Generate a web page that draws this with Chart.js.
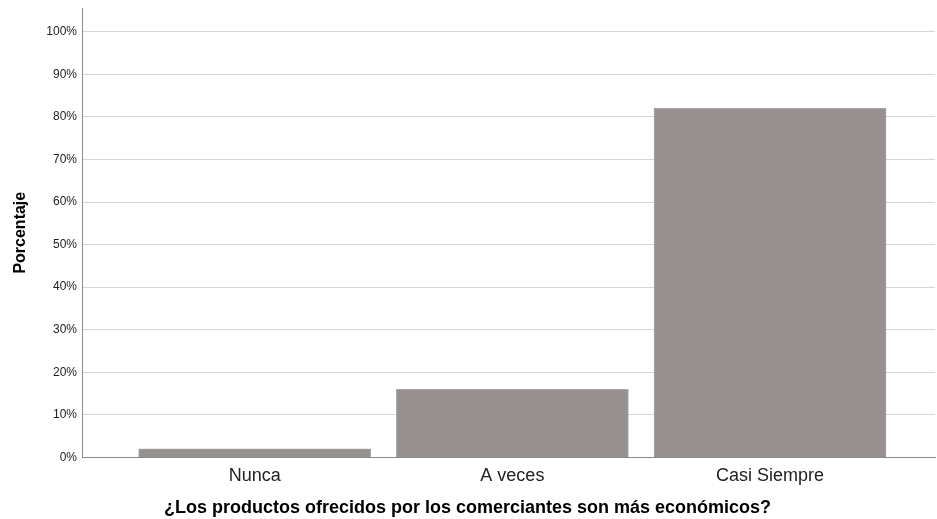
<!DOCTYPE html>
<html>
<head>
<meta charset="utf-8">
<script src="https://cdn.jsdelivr.net/npm/chart.js@4/dist/chart.umd.min.js"></script>
<style>
  html, body { margin: 0; padding: 0; background: #fff; }
  #wrap { width: 937px; height: 519px; }
</style>
</head>
<body>
<div id="wrap"><canvas id="zoneChart"></canvas></div>
<script>
const categories = ['Nunca', 'A veces', 'Casi Siempre']
const porcentajes = [2, 16, 82]
const yTicks = [0, 10, 20, 30, 40, 50, 60, 70, 80, 90, 100]

const ctx = document.querySelector('#zoneChart')

/* Données : chaque barre placée sur l'axe linéaire à l'indice de sa catégorie */
const points = porcentajes.map((v, i) => ({ x: i, y: v }))

window.simChart = new Chart(ctx, {
  type: 'bar',
  data: {
    datasets: [{
      data: points,
      backgroundColor: '#96918f',
      borderColor: '#a9a5a4',
      borderWidth: 1,
      barThickness: 232
    }]
  },
  options: {
    responsive: true,
    maintainAspectRatio: false,
    animation: false,
    layout: { padding: { top: 8, right: 2, left: 0, bottom: 0 } },
    plugins: {
      legend: { display: false },
      tooltip: { enabled: false },
      /* Titre de l'axe X centré sur toute la largeur, comme dans l'original */
      title: {
        display: true,
        position: 'bottom',
        text: '¿Los productos ofrecidos por los comerciantes son más económicos?',
        color: '#000',
        font: { family: 'Liberation Sans, Arial', size: 18, weight: 'bold' },
        padding: { top: 0, bottom: 0 }
      }
    },
    scales: {
      x: {
        type: 'linear',
        offset: false,
        min: -0.67,
        max: 2.64,
        afterBuildTicks: s => { s.ticks = categories.map((c, i) => ({ value: i })) },
        afterFit: s => { s.height = 40 },
        grid: { display: false, drawTicks: false },
        border: { color: '#8a8a8a', width: 1 },
        ticks: {
          padding: 8,
          color: '#222',
          font: { family: 'Liberation Sans, Arial', size: 18 },
          callback: v => categories[v]
        }
      },
      y: {
        min: 0,
        max: 105.6,
        afterBuildTicks: s => { s.ticks = yTicks.map(v => ({ value: v })) },
        afterFit: s => { s.width = 82; s.paddingTop = 0; s.paddingBottom = 0 },
        grid: { color: '#d6d6d6', lineWidth: 1, drawTicks: false },
        border: { color: '#8a8a8a', width: 1 },
        ticks: {
          padding: 5,
          color: '#222',
          font: { family: 'Liberation Sans, Arial', size: 12 },
          callback: v => v + '%'
        },
        title: {
          display: true,
          text: 'Porcentaje',
          color: '#000',
          font: { family: 'Liberation Sans, Arial', size: 16, weight: 'bold' },
          padding: { top: 11, bottom: 0 }
        }
      }
    }
  }
})
</script>
</body>
</html>
